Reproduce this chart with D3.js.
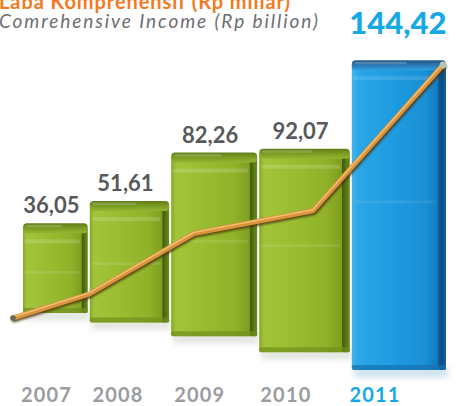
<!DOCTYPE html>
<html>
<head>
<meta charset="utf-8">
<script src="https://cdn.jsdelivr.net/npm/d3@7"></script>
<style>
  html, body { margin: 0; padding: 0; background: #ffffff; }
  svg { display: block; }
</style>
</head>
<body>
<svg id="chart" width="457" height="406"></svg>
<script>
// Comprehensive income per year (Rp billion)
const years = ["2007", "2008", "2009", "2010", "2011"];
const income = [36.05, 51.61, 82.26, 92.07, 144.42];
const titleId = "Laba Komprehensif (Rp miliar)";
const titleEn = "Comrehensive Income (Rp billion)";

const svg = d3.select("#chart");
const defs = svg.append("defs");
const font = "Lato, 'Open Sans', sans-serif";
const fmt = d3.formatLocale({ decimal: ",", thousands: ".", grouping: [3], currency: ["Rp", ""] }).format(".2f");

const idx = d3.range(years.length);
const last = years.length - 1;

// Bars widen slightly toward the right (perspective), so band edges come from a power scale
const xBar = d3.scalePow().exponent(1.15).domain([0, years.length]).range([22, 447]);
// Floor of each bar drops toward the front
const yBase = d3.scalePow().exponent(1.3).domain([0, last]).range([313, 370]);
// Bar height from value
const hScale = d3.scaleLinear().domain([-8.1, 145]).range([0, 311]);
// Trend line
const lineX = d3.scalePow().exponent(1.25).domain([0, last]).range([13, 443]);
const lineY = d3.scalePow().exponent(1.6).domain(d3.extent(income)).range([318, 65]);
// Year labels
const tickX = d3.scalePow().exponent(1.1).domain([0, last]).range([46, 374.5]);

const barTop = i => yBase(i) - hScale(income[i]);

// ---- gradients ----
function hGrad(id, stops) {
  const g = defs.append("linearGradient").attr("id", id).attr("x1", 0).attr("x2", 1).attr("y1", 0).attr("y2", 0);
  stops.forEach(([o, c]) => g.append("stop").attr("offset", o).attr("stop-color", c));
}
function vGrad(id, stops) {
  const g = defs.append("linearGradient").attr("id", id).attr("x1", 0).attr("x2", 0).attr("y1", 0).attr("y2", 1);
  stops.forEach(([o, c]) => g.append("stop").attr("offset", o).attr("stop-color", c));
}
hGrad("greenFace", [[0, "#86a925"], [0.06, "#a2c43a"], [0.5, "#97ba2e"], [0.8, "#90b129"], [1, "#7d9c1f"]]);
hGrad("greenSide", [[0, "#3f5a0a"], [0.5, "#557414"], [1, "#6c8c1c"]]);
vGrad("greenTop", [[0, "#617e18"], [0.5, "#7c9c24"], [1, "#95b631"]]);
hGrad("blueFace", [[0, "#3fb6ec"], [0.08, "#2aa6e6"], [0.5, "#1f9be0"], [0.85, "#1a8fd4"], [1, "#1477bb"]]);
hGrad("blueSide", [[0, "#0f5d98"], [0.6, "#0b4a80"], [1, "#1a6aa8"]]);
vGrad("blueTop", [[0, "#24557e"], [0.5, "#2b78b4"], [1, "#2fa0e0"]]);

defs.append("filter").attr("id", "soft").attr("x", "-20%").attr("y", "-100%").attr("width", "140%").attr("height", "300%")
  .append("feGaussianBlur").attr("stdDeviation", 3);
defs.append("filter").attr("id", "softer").attr("x", "-10%").attr("y", "-10%").attr("width", "120%").attr("height", "120%")
  .append("feGaussianBlur").attr("stdDeviation", 0.8);
defs.append("filter").attr("id", "edge").attr("x", "-5%").attr("y", "-5%").attr("width", "110%").attr("height", "110%")
  .append("feGaussianBlur").attr("stdDeviation", 0.6);

// ---- bars ----
const bars = svg.append("g").attr("class", "bars");
idx.forEach(i => {
  const x0 = xBar(i) + 1;
  const x1 = xBar(i + 1) - 1;
  const w = x1 - x0;
  const bottom = yBase(i);
  const top = barTop(i);
  const side = Math.max(6, w * 0.085);
  const cap = 10;
  const blue = i === last;
  const face = blue ? "url(#blueFace)" : "url(#greenFace)";
  const sideFill = blue ? "url(#blueSide)" : "url(#greenSide)";
  const topFill = blue ? "url(#blueTop)" : "url(#greenTop)";
  const g = bars.append("g");

  // ground shadow
  g.append("rect")
    .attr("x", x0 + 2).attr("y", bottom - 2).attr("width", w).attr("height", 9)
    .attr("fill", blue ? "#9fc6dc" : "#c8ccc0").attr("opacity", 0.55).attr("filter", "url(#soft)");

  const body = g.append("g").attr("filter", "url(#edge)");
  // front face
  body.append("rect")
    .attr("x", x0).attr("y", top + cap * 0.5).attr("width", w - side + 1).attr("height", bottom - top - cap * 0.5)
    .attr("rx", 2).attr("fill", face);
  // darker right side
  body.append("rect")
    .attr("x", x1 - side).attr("y", top + cap * 0.5).attr("width", side).attr("height", bottom - top - cap * 0.5)
    .attr("rx", 1.5).attr("fill", sideFill);
  // horizontal sheen bands on the face
  body.append("rect")
    .attr("x", x0 + 2).attr("y", top + cap + 6).attr("width", w - side - 4).attr("height", 4)
    .attr("fill", "#ffffff").attr("opacity", blue ? 0.12 : 0.16);
  body.append("rect")
    .attr("x", x0 + 2).attr("y", top + cap + (bottom - top) * 0.42).attr("width", w - side - 4).attr("height", 3)
    .attr("fill", "#ffffff").attr("opacity", blue ? 0.07 : 0.1);
  // bottom edge shade
  body.append("rect")
    .attr("x", x0).attr("y", bottom - 5).attr("width", w).attr("height", 5)
    .attr("rx", 2).attr("fill", blue ? "#1470b0" : "#6f8f1c").attr("opacity", 0.7);
  // top cap
  body.append("rect")
    .attr("x", x0).attr("y", top).attr("width", w).attr("height", cap)
    .attr("rx", 4).attr("fill", topFill);
  body.append("rect")
    .attr("x", x0 + 3).attr("y", top + 1.5).attr("width", w * 0.55).attr("height", 2.5)
    .attr("rx", 1).attr("fill", "#ffffff").attr("opacity", 0.18);
});

// ---- trend line ----
const pts = idx.map(i => [lineX(i), lineY(income[i])]);
const path = d3.line().curve(d3.curveLinear);
const lg = svg.append("g").attr("class", "trend").attr("fill", "none").attr("stroke-linecap", "round").attr("stroke-linejoin", "round");
lg.append("path").attr("d", path(pts)).attr("transform", "translate(1,1.8)")
  .attr("stroke", "#4a3210").attr("stroke-width", 5).attr("opacity", 0.85).attr("filter", "url(#softer)");
lg.append("path").attr("d", path(pts))
  .attr("stroke", "#d9933a").attr("stroke-width", 5);
lg.append("path").attr("d", path(pts)).attr("transform", "translate(-0.4,-1)")
  .attr("stroke", "#f4c27a").attr("stroke-width", 1.6).attr("opacity", 0.9);
// small tips at both ends
lg.append("circle").attr("cx", pts[0][0]).attr("cy", pts[0][1]).attr("r", 2.8).attr("fill", "#6b6458").attr("stroke", "none");
lg.append("circle").attr("cx", pts[last][0]).attr("cy", pts[last][1]).attr("r", 3.4).attr("fill", "#b9c2b6").attr("stroke", "none");

// ---- value labels ----
svg.append("g").attr("class", "values")
  .selectAll("text").data(idx).join("text")
  .attr("x", i => (xBar(i) + xBar(i + 1)) / 2 - (i === last ? 1 : 4))
  .attr("y", i => barTop(i) - (i === last ? 26 : 10))
  .attr("text-anchor", "middle")
  .attr("font-family", font)
  .attr("font-weight", i => i === last ? 900 : 700)
  .attr("font-size", i => i === last ? 31 : 22)
  .attr("fill", i => i === last ? "#16a9e4" : "#58595b")
  .text(i => fmt(income[i]));

// ---- year axis ----
const axis = d3.axisBottom(tickX).tickValues(idx).tickFormat(i => years[i]).tickSize(0).tickPadding(0);
const ax = svg.append("g").attr("class", "x-axis").attr("transform", "translate(0,388)").call(axis);
ax.select(".domain").remove();
ax.selectAll("text")
  .attr("font-family", font).attr("font-weight", 700).attr("font-size", 20)
  .attr("letter-spacing", 1.2)
  .attr("fill", i => i === last ? "#16a9e4" : "#9a9c9f");

// ---- titles ----
svg.append("text").attr("x", -1).attr("y", 9)
  .attr("font-family", font).attr("font-weight", 700).attr("font-size", 20)
  .attr("textLength", 291).attr("lengthAdjust", "spacing")
  .attr("fill", "#f37a22").text(titleId);
svg.append("text").attr("x", -1).attr("y", 27.5)
  .attr("font-family", font).attr("font-style", "italic").attr("font-size", 19)
  .attr("textLength", 319).attr("lengthAdjust", "spacing")
  .attr("fill", "#6d6e71").text(titleEn);
</script>
</body>
</html>
